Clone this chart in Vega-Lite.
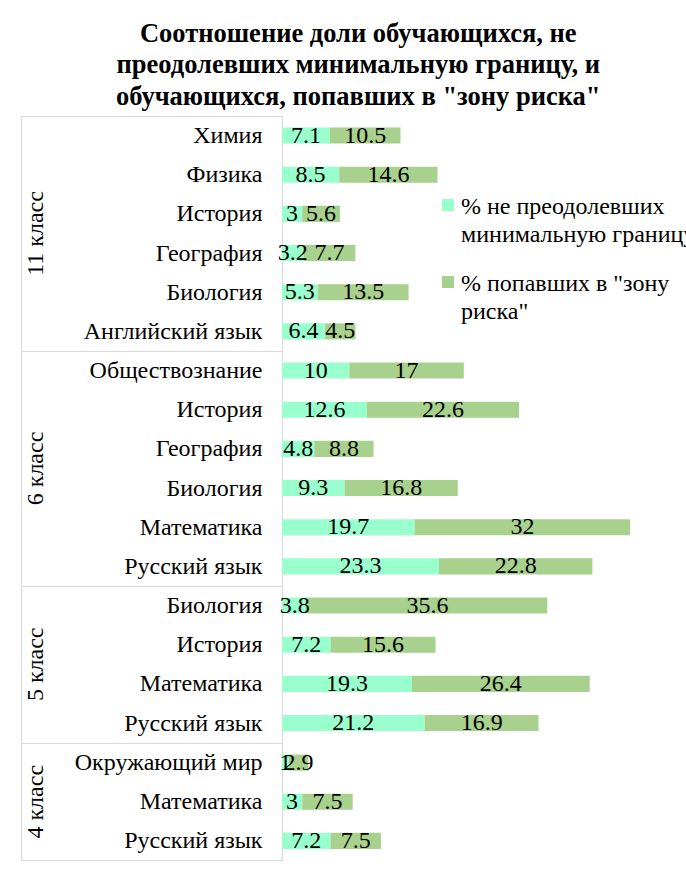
{
  "$schema": "https://vega.github.io/schema/vega-lite/v6.json",
  "padding": {"left": 20, "top": 20, "right": 0, "bottom": 0},
  "config": {"font": "Liberation Serif, Times New Roman, DejaVu Serif, serif", "view": {"stroke": null}},
  "title": {
    "text": ["Соотношение доли обучающихся, не", "преодолевших минимальную границу, и", "обучающихся, попавших в \"зону риска\""],
    "font": "Liberation Serif, Times New Roman, DejaVu Serif, serif", "fontSize": 26.5, "fontWeight": "bold", "color": "black",
    "anchor": "middle", "frame": "bounds", "lineHeight": 31.5, "offset": -6
  },
  "data": {"values": [
    {"class": "11 класс", "subject": "Химия", "series": "% не преодолевших минимальную границу", "value": 7.1},
    {"class": "11 класс", "subject": "Химия", "series": "% попавших в \"зону риска\"", "value": 10.5},
    {"class": "11 класс", "subject": "Физика", "series": "% не преодолевших минимальную границу", "value": 8.5},
    {"class": "11 класс", "subject": "Физика", "series": "% попавших в \"зону риска\"", "value": 14.6},
    {"class": "11 класс", "subject": "История", "series": "% не преодолевших минимальную границу", "value": 3},
    {"class": "11 класс", "subject": "История", "series": "% попавших в \"зону риска\"", "value": 5.6},
    {"class": "11 класс", "subject": "География", "series": "% не преодолевших минимальную границу", "value": 3.2},
    {"class": "11 класс", "subject": "География", "series": "% попавших в \"зону риска\"", "value": 7.7},
    {"class": "11 класс", "subject": "Биология", "series": "% не преодолевших минимальную границу", "value": 5.3},
    {"class": "11 класс", "subject": "Биология", "series": "% попавших в \"зону риска\"", "value": 13.5},
    {"class": "11 класс", "subject": "Английский язык", "series": "% не преодолевших минимальную границу", "value": 6.4},
    {"class": "11 класс", "subject": "Английский язык", "series": "% попавших в \"зону риска\"", "value": 4.5},
    {"class": "6 класс", "subject": "Обществознание", "series": "% не преодолевших минимальную границу", "value": 10},
    {"class": "6 класс", "subject": "Обществознание", "series": "% попавших в \"зону риска\"", "value": 17},
    {"class": "6 класс", "subject": "История", "series": "% не преодолевших минимальную границу", "value": 12.6},
    {"class": "6 класс", "subject": "История", "series": "% попавших в \"зону риска\"", "value": 22.6},
    {"class": "6 класс", "subject": "География", "series": "% не преодолевших минимальную границу", "value": 4.8},
    {"class": "6 класс", "subject": "География", "series": "% попавших в \"зону риска\"", "value": 8.8},
    {"class": "6 класс", "subject": "Биология", "series": "% не преодолевших минимальную границу", "value": 9.3},
    {"class": "6 класс", "subject": "Биология", "series": "% попавших в \"зону риска\"", "value": 16.8},
    {"class": "6 класс", "subject": "Математика", "series": "% не преодолевших минимальную границу", "value": 19.7},
    {"class": "6 класс", "subject": "Математика", "series": "% попавших в \"зону риска\"", "value": 32},
    {"class": "6 класс", "subject": "Русский язык", "series": "% не преодолевших минимальную границу", "value": 23.3},
    {"class": "6 класс", "subject": "Русский язык", "series": "% попавших в \"зону риска\"", "value": 22.8},
    {"class": "5 класс", "subject": "Биология", "series": "% не преодолевших минимальную границу", "value": 3.8},
    {"class": "5 класс", "subject": "Биология", "series": "% попавших в \"зону риска\"", "value": 35.6},
    {"class": "5 класс", "subject": "История", "series": "% не преодолевших минимальную границу", "value": 7.2},
    {"class": "5 класс", "subject": "История", "series": "% попавших в \"зону риска\"", "value": 15.6},
    {"class": "5 класс", "subject": "Математика", "series": "% не преодолевших минимальную границу", "value": 19.3},
    {"class": "5 класс", "subject": "Математика", "series": "% попавших в \"зону риска\"", "value": 26.4},
    {"class": "5 класс", "subject": "Русский язык", "series": "% не преодолевших минимальную границу", "value": 21.2},
    {"class": "5 класс", "subject": "Русский язык", "series": "% попавших в \"зону риска\"", "value": 16.9},
    {"class": "4 класс", "subject": "Окружающий мир", "series": "% не преодолевших минимальную границу", "value": 1},
    {"class": "4 класс", "subject": "Окружающий мир", "series": "% попавших в \"зону риска\"", "value": 2.9},
    {"class": "4 класс", "subject": "Математика", "series": "% не преодолевших минимальную границу", "value": 3},
    {"class": "4 класс", "subject": "Математика", "series": "% попавших в \"зону риска\"", "value": 7.5},
    {"class": "4 класс", "subject": "Русский язык", "series": "% не преодолевших минимальную границу", "value": 7.2},
    {"class": "4 класс", "subject": "Русский язык", "series": "% попавших в \"зону риска\"", "value": 7.5}
  ]},
  "facet": {
    "row": {
      "field": "class", "type": "nominal",
      "sort": ["11 класс", "6 класс", "5 класс", "4 класс"],
      "header": {"title": null, "labelFont": "Liberation Serif, Times New Roman, DejaVu Serif, serif", "labelFontSize": 24, "labelColor": "black", "labelPadding": 222, "labelAngle": -90}
    }
  },
  "spacing": 0,
  "bounds": "flush",
  "resolve": {"scale": {"y": "independent"}},
  "spec": {
    "width": 404,
    "height": {"step": 39.16},
    "encoding": {
      "y": {
        "field": "subject", "type": "nominal", "sort": null,
        "scale": {"paddingInner": 0, "paddingOuter": 0},
        "axis": {
          "title": null, "offset": 261, "domainColor": "#d9d9d9",
          "tickSize": -261, "tickBand": "extent", "tickColor": "#d9d9d9",
          "tickOpacity": {"condition": {"test": "datum.index < 0 || datum.index === 1", "value": 1}, "value": 0},
          "labelFont": "Liberation Serif, Times New Roman, DejaVu Serif, serif", "labelFontSize": 24, "labelColor": "black",
          "labelPadding": 20, "labelLimit": 300
        }
      },
      "order": {"field": "series"}
    },
    "layer": [
      {
        "mark": {"type": "bar", "height": {"band": 0.41}},
        "encoding": {
          "x": {
            "field": "value", "type": "quantitative", "stack": "zero",
            "scale": {"domain": [0, 58]},
            "axis": {"grid": true, "values": [0], "gridColor": "#d9d9d9", "labels": false, "ticks": false, "domain": false, "title": null}
          },
          "color": {
            "field": "series", "type": "nominal",
            "scale": {"domain": ["% не преодолевших минимальную границу", "% попавших в \"зону риска\""], "range": ["#99FFCC", "#A9D18E"]},
            "legend": {
              "orient": "none", "legendX": 154, "legendY": 77, "title": null,
              "symbolType": "square", "symbolSize": 144, "symbolStrokeWidth": 0,
              "labelFont": "Liberation Serif, Times New Roman, DejaVu Serif, serif", "labelFontSize": 24, "labelColor": "black",
              "labelLimit": 500, "labelBaseline": "alphabetic", "labelOffset": 1, "rowPadding": 23,
              "labelExpr": "indexof(datum.value, 'не преодолевших') >= 0 ? ['% не преодолевших', 'минимальную границу'] : ['% попавших в \"зону', 'риска\"']",
              "encode": {"labels": {"update": {"lineHeight": {"value": 28}, "dy": {"value": 9}}}}
            }
          }
        }
      },
      {
        "mark": {"type": "text", "font": "Liberation Serif, Times New Roman, DejaVu Serif, serif", "fontSize": 24, "color": "black", "baseline": "middle"},
        "encoding": {
          "x": {"field": "value", "type": "quantitative", "stack": "zero", "bandPosition": 0.5},
          "detail": {"field": "series"},
          "text": {"field": "value", "type": "quantitative"}
        }
      }
    ]
  }
}
